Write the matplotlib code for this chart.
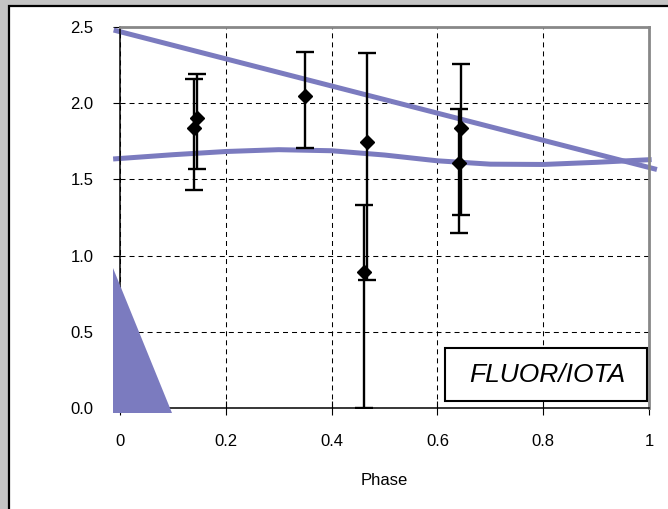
import matplotlib
matplotlib.use("Agg")
import matplotlib.pyplot as plt
from matplotlib.patches import Rectangle, Polygon

plt.rcParams['font.family'] = ['Liberation Sans', 'DejaVu Sans']
plt.rcParams['lines.scale_dashes'] = False

# Measured points: phase, value, upper and lower error-bar ends
phase = [0.139, 0.145, 0.350, 0.466, 0.462, 0.644, 0.640]
value = [1.839, 1.905, 2.047, 1.745, 0.890, 1.835, 1.606]
upper = [2.159, 2.190, 2.334, 2.330, 1.330, 2.260, 1.960]
lower = [1.430, 1.566, 1.708, 0.840, 0.000, 1.266, 1.150]

# Straight trend line end points
trend_x = [-0.012, 1.015]
trend_y = [2.480, 1.565]

# Periodic fit curve, sampled points
curve_x = [-0.013, 0.1, 0.2, 0.3, 0.4, 0.5, 0.6, 0.7, 0.8, 0.9, 1.005]
curve_y = [1.634, 1.662, 1.683, 1.695, 1.688, 1.660, 1.622, 1.600, 1.598, 1.612, 1.630]

# Filled wedge in the lower-left corner
wedge_x = [-0.013, -0.013, 0.098]
wedge_y = [0.920, -0.033, -0.033]

x_ticks = [0, 0.2, 0.4, 0.6, 0.8, 1.0]
x_tick_labels = ["0", "0.2", "0.4", "0.6", "0.8", "1"]
y_ticks = [0.0, 0.5, 1.0, 1.5, 2.0, 2.5]
y_tick_labels = ["0.0", "0.5", "1.0", "1.5", "2.0", "2.5"]

W, H = 668, 509
fig = plt.figure(figsize=(W / 100, H / 100), dpi=100, facecolor="#c4c4c4")

# White chart area with black frame
fig.patches.append(Rectangle((9 / W, -0.01), 1.0, 1 - 5.5 / H + 0.01,
                             transform=fig.transFigure, facecolor="white",
                             edgecolor="black", linewidth=1.6, zorder=-10))

ax = fig.add_axes([120 / W, 1 - 408 / H, 529 / W, 381 / H])
ax.set_facecolor("white")
ax.set_xlim(0, 1)
ax.set_ylim(0, 2.5)

blue = "#7b7bbf"
ax.plot(trend_x, trend_y, color=blue, lw=3.6, solid_capstyle="butt",
        clip_on=False, zorder=2)
ax.plot(curve_x, curve_y, color=blue, lw=3.6, solid_capstyle="butt",
        solid_joinstyle="round", clip_on=False, zorder=2)

yerr = [[v - lo for v, lo in zip(value, lower)],
        [hi - v for v, hi in zip(value, upper)]]
ax.errorbar(phase, value, yerr=yerr, fmt="D", color="black", ms=7.5,
            ecolor="black", elinewidth=1.7, capsize=6.5, capthick=1.7,
            zorder=4)

ax.add_patch(Polygon(list(zip(wedge_x, wedge_y)), closed=True,
                     facecolor=blue, edgecolor="none", clip_on=False, zorder=5))

# Grid
ax.grid(True, color="black", linestyle=(0, (3.6, 2.9)), linewidth=0.75)
ax.set_axisbelow(True)

for side in ("left", "bottom"):
    ax.spines[side].set_color("black")
    ax.spines[side].set_linewidth(1.1)
for side in ("top", "right"):
    ax.spines[side].set_color("#888888")
    ax.spines[side].set_linewidth(2.0)

ax.set_xticks(x_ticks)
ax.set_xticklabels(x_tick_labels)
ax.set_yticks(y_ticks)
ax.set_yticklabels(y_tick_labels)
ax.tick_params(axis="x", direction="inout", length=10, width=0.8,
               labelsize=12, pad=14)
ax.tick_params(axis="y", direction="out", length=5, width=0.8,
               labelsize=12, pad=14)
ax.set_xlabel("Phase", fontsize=12, labelpad=17)

# Label box in the lower-right corner
ax.add_patch(Rectangle((0.614, 0.018), 0.382, 0.139, transform=ax.transAxes,
                       facecolor="white", edgecolor="black", linewidth=1.5,
                       zorder=6))
ax.text(0.807, 0.086, "FLUOR/IOTA", transform=ax.transAxes, ha="center",
        va="center", fontsize=19, fontstyle="italic", zorder=7)

fig.savefig("out.png", dpi=100, facecolor=fig.get_facecolor())
